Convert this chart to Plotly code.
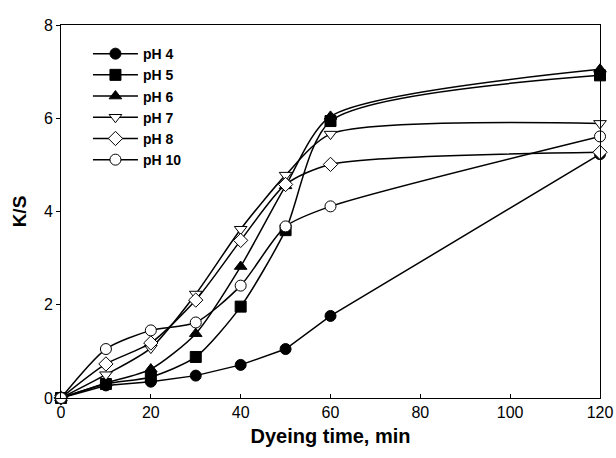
import plotly.graph_objects as go

time_min = [0, 10, 20, 30, 40, 50, 60, 120]
ph4 = [0, 0.27, 0.35, 0.48, 0.71, 1.05, 1.76, 5.23]
ph5 = [0, 0.30, 0.45, 0.88, 1.96, 3.60, 5.94, 6.92]
ph6 = [0, 0.32, 0.62, 1.38, 2.82, 4.55, 6.04, 7.05]
ph7 = [0, 0.50, 1.07, 2.23, 3.62, 4.78, 5.66, 5.89]
ph8 = [0, 0.73, 1.18, 2.10, 3.38, 4.58, 5.01, 5.27]
ph10 = [0, 1.05, 1.45, 1.62, 2.41, 3.68, 4.11, 5.61]

series = [
    ("pH 4", ph4, "circle", "black", "linear"),
    ("pH 5", ph5, "square", "black", "spline"),
    ("pH 6", ph6, "triangle-up", "black", "spline"),
    ("pH 7", ph7, "triangle-down", "white", "spline"),
    ("pH 8", ph8, "diamond", "white", "spline"),
    ("pH 10", ph10, "circle", "white", "spline"),
]

fig = go.Figure()
for name, vals, sym, fill, shape in series:
    fig.add_trace(go.Scatter(
        x=time_min, y=vals, name=name, mode="lines+markers",
        line=dict(color="black", width=1.5, shape=shape, smoothing=0.7),
        marker=dict(symbol=sym, size=11, color=fill, line=dict(color="black", width=1)),
        cliponaxis=False,
    ))

fig.update_layout(
    width=624, height=458, autosize=False,
    margin=dict(l=61, r=24, t=25, b=60),
    plot_bgcolor="white", paper_bgcolor="white",
    font=dict(family="Liberation Sans, Arial", color="black", size=16),
    legend=dict(x=0.05, y=0.965, xanchor="left", yanchor="top",
                font=dict(size=14, family="Liberation Sans, Arial", weight="bold"),
                bgcolor="rgba(0,0,0,0)", tracegroupgap=0, itemwidth=45),
    showlegend=True,
)
fig.update_xaxes(range=[0, 120], tickvals=[0, 20, 40, 60, 80, 100, 120],
                 ticks="inside", ticklen=4, tickcolor="black",
                 showline=True, linecolor="black", linewidth=1, mirror=True,
                 showgrid=False, zeroline=False, ticklabeloverflow="allow",
                 title=dict(text="<b>Dyeing time, min</b>", font=dict(size=20), standoff=8))
fig.update_yaxes(range=[0, 8], tickvals=[0, 2, 4, 6, 8],
                 ticks="outside", ticklen=4, tickcolor="black",
                 showline=True, linecolor="black", linewidth=1, mirror=True,
                 showgrid=False, zeroline=False,
                 title=dict(text="<b>K/S</b>", font=dict(size=19), standoff=12))

fig.write_html("out.html",
               config={"responsive": False, "displayModeBar": False},
               post_script="document.body.style.margin='0';document.body.style.overflow='hidden';")
